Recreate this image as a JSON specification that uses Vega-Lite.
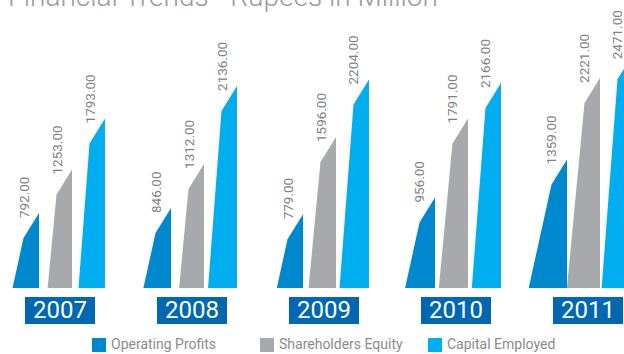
{
  "$schema": "https://vega.github.io/schema/vega-lite/v6.json",
  "autosize": {"type": "none"},
  "padding": {"left": 0, "top": 10, "right": 0, "bottom": 66},
  "width": 624,
  "height": 278,
  "title": {
    "text": "Financial Trends - Rupees in Million",
    "anchor": "start",
    "frame": "group",
    "orient": "top",
    "offset": 0,
    "baseline": "alphabetic",
    "dx": 8,
    "dy": 24,
    "font": "Roboto",
    "fontSize": 28,
    "fontWeight": 300,
    "color": "#9a9a9a"
  },
  "config": {"view": {"stroke": null}},
  "datasets": {
    "bars": [
      {"year": "2007", "series": "Operating Profits", "value": 792},
      {"year": "2007", "series": "Shareholders Equity", "value": 1253},
      {"year": "2007", "series": "Capital Employed", "value": 1793},
      {"year": "2008", "series": "Operating Profits", "value": 846},
      {"year": "2008", "series": "Shareholders Equity", "value": 1312},
      {"year": "2008", "series": "Capital Employed", "value": 2136},
      {"year": "2009", "series": "Operating Profits", "value": 779},
      {"year": "2009", "series": "Shareholders Equity", "value": 1596},
      {"year": "2009", "series": "Capital Employed", "value": 2204},
      {"year": "2010", "series": "Operating Profits", "value": 956},
      {"year": "2010", "series": "Shareholders Equity", "value": 1791},
      {"year": "2010", "series": "Capital Employed", "value": 2166},
      {"year": "2011", "series": "Operating Profits", "value": 1359},
      {"year": "2011", "series": "Shareholders Equity", "value": 2221},
      {"year": "2011", "series": "Capital Employed", "value": 2471}
    ],
    "years": [
      {"year": "2007"}, {"year": "2008"}, {"year": "2009"}, {"year": "2010"}, {"year": "2011"}
    ]
  },
  "encoding": {
    "x": {
      "field": "year",
      "type": "nominal",
      "axis": null,
      "scale": {"range": [0, 643], "paddingInner": 0.2803, "paddingOuter": 0.0758}
    },
    "xOffset": {
      "field": "series",
      "type": "nominal",
      "scale": {"type": "point", "domain": ["Operating Profits", "Shareholders Equity", "Capital Employed"], "padding": 0.4394}
    }
  },
  "layer": [
    {
      "data": {"name": "bars"},
      "mark": {"type": "square", "size": 0, "filled": true},
      "encoding": {
        "y": {"field": "value", "type": "quantitative", "axis": null, "scale": {"domain": [0, 2939], "nice": false}},
        "color": {
          "field": "series",
          "type": "nominal",
          "scale": {"domain": ["Operating Profits", "Shareholders Equity", "Capital Employed"], "range": ["#0088ce", "#a7a9ac", "#00aeef"]},
          "legend": {
            "title": null,
            "orient": "none",
            "legendX": 92,
            "legendY": 328,
            "direction": "horizontal",
            "columns": 3,
            "gridAlign": "all",
            "columnPadding": 25,
            "padding": 0,
            "symbolType": "square",
            "symbolSize": 196,
            "symbolStrokeWidth": 0,
            "symbolOpacity": 1,
            "labelOffset": 5,
            "labelFont": "Roboto",
            "labelFontSize": 14,
            "labelColor": "#8a8c8e",
            "labelLimit": 300
          }
        }
      }
    },
    {
      "data": {"name": "bars"},
      "transform": [{"filter": {"field": "series", "equal": "Operating Profits"}}],
      "mark": {"type": "point", "filled": true, "size": 4, "opacity": 1, "strokeWidth": 0, "clip": true, "fill": "#0088ce",
        "shape": "M 14.5 0 L 14.5 400 L -83.5 400 L -1 25 Z"},
      "encoding": {
        "y": {"field": "value", "type": "quantitative"}
      }
    },
    {
      "data": {"name": "bars"},
      "transform": [{"filter": {"field": "series", "equal": "Shareholders Equity"}}],
      "mark": {"type": "point", "filled": true, "size": 4, "opacity": 1, "strokeWidth": 0, "clip": true, "fill": "#a7a9ac",
        "shape": "M 14.5 0 L 14.5 400 L -36.6 400 L -1 25 Z"},
      "encoding": {
        "y": {"field": "value", "type": "quantitative"}
      }
    },
    {
      "data": {"name": "bars"},
      "transform": [{"filter": {"field": "series", "equal": "Capital Employed"}}],
      "mark": {"type": "point", "filled": true, "size": 4, "opacity": 1, "strokeWidth": 0, "clip": true, "fill": "#00aeef",
        "shape": "M 14.5 0 L 14.5 400 L -29.5 400 L -1 25 Z"},
      "encoding": {
        "y": {"field": "value", "type": "quantitative"}
      }
    },
    {
      "data": {"name": "bars"},
      "mark": {"type": "text", "angle": 270, "align": "left", "baseline": "middle", "yOffset": 5, "font": "Roboto", "fontSize": 13.5, "color": "#7f8184"},
      "encoding": {
        "y": {"field": "value", "type": "quantitative"},
        "text": {"field": "value", "type": "quantitative", "format": ".2f"}
      }
    },
    {
      "data": {"name": "years"},
      "mark": {"type": "bar", "width": 70, "color": "#0067b1", "xOffset": 2.5, "yOffset": 9, "y2Offset": 36},
      "encoding": {
        "xOffset": null,
        "y": {"datum": 0, "type": "quantitative"},
        "y2": {"datum": 0}
      }
    },
    {
      "data": {"name": "years"},
      "mark": {"type": "text", "align": "center", "baseline": "alphabetic", "xOffset": 2.5, "yOffset": 30, "font": "Roboto", "fontSize": 24, "color": "#ffffff"},
      "encoding": {
        "xOffset": null,
        "y": {"datum": 0, "type": "quantitative"},
        "text": {"field": "year"}
      }
    }
  ]
}
